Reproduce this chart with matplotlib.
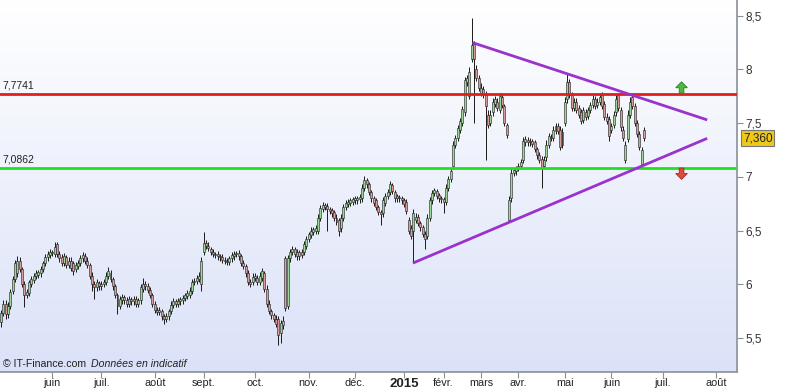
import numpy as np
import matplotlib
matplotlib.use("Agg")
import matplotlib.pyplot as plt
from matplotlib.colors import LinearSegmentedColormap
from matplotlib.patches import FancyArrow

plt.rcParams['font.family'] = ['Liberation Sans', 'DejaVu Sans']

# ---------------- data (daily candles) ----------------
opens = [
    5.65,5.73,5.82,5.72,5.80,5.94,6.05,6.10,6.22,6.14,
    6.00,5.90,5.92,6.00,6.04,6.08,6.09,6.10,6.14,6.20,
    6.25,6.27,6.30,6.28,6.37,6.28,6.25,6.20,6.25,6.18,
    6.22,6.20,6.14,6.17,6.20,6.24,6.26,6.22,6.18,6.08,
    6.00,5.97,6.01,5.98,6.00,6.02,6.08,6.10,6.05,5.98,
    5.90,5.80,5.85,5.88,5.85,5.82,5.86,5.84,5.86,5.82,
    5.85,5.96,6.00,5.98,5.95,5.90,5.82,5.76,5.74,5.75,
    5.70,5.68,5.70,5.75,5.81,5.84,5.82,5.84,5.85,5.87,
    5.89,5.90,5.94,6.02,6.03,6.05,6.00,6.30,6.38,6.36,
    6.33,6.30,6.28,6.28,6.26,6.25,6.23,6.22,6.21,6.24,
    6.26,6.28,6.29,6.26,6.20,6.17,6.10,6.02,6.02,6.06,
    6.06,6.02,6.06,6.10,5.96,5.82,5.75,5.71,5.68,5.68,
    5.55,5.62,6.24,5.80,6.24,6.30,6.33,6.30,6.26,6.30,
    6.30,6.36,6.42,6.46,6.49,6.50,6.50,6.62,6.70,6.72,
    6.73,6.70,6.69,6.67,6.62,6.60,6.52,6.62,6.72,6.75,
    6.76,6.77,6.78,6.78,6.79,6.80,6.90,6.97,6.93,6.86,
    6.80,6.78,6.72,6.67,6.66,6.76,6.82,6.86,6.92,6.86,
    6.80,6.81,6.80,6.78,6.77,6.60,6.52,6.50,6.60,6.63,
    6.57,6.53,6.47,6.45,6.62,6.78,6.85,6.87,6.83,6.80,
    6.79,6.77,6.90,6.98,7.10,7.30,7.36,7.44,7.50,7.60,
    7.88,7.75,8.10,8.24,8.00,7.92,7.78,7.82,7.76,7.58,
    7.50,7.60,7.68,7.70,7.62,7.74,7.66,7.48,6.60,6.80,
    7.04,7.05,7.08,7.10,7.16,7.32,7.34,7.32,7.33,7.32,
    7.26,7.20,7.17,7.10,7.18,7.30,7.37,7.36,7.43,7.47,
    7.44,7.30,7.50,7.72,7.88,7.76,7.64,7.70,7.64,7.60,
    7.53,7.60,7.57,7.62,7.67,7.72,7.67,7.70,7.76,7.68,
    7.56,7.54,7.44,7.48,7.60,7.76,7.62,7.44,7.16,7.35,
    7.58,7.74,7.66,7.50,7.40,7.12,7.44,
]
closes = [
    5.73,5.82,5.72,5.80,5.93,6.05,6.20,6.22,6.14,6.00,
    5.90,5.93,6.02,6.05,6.08,6.10,6.11,6.14,6.20,6.25,
    6.28,6.30,6.29,6.35,6.28,6.24,6.20,6.26,6.18,6.22,
    6.15,6.12,6.18,6.20,6.24,6.27,6.22,6.18,6.08,6.00,
    5.97,6.02,5.98,6.00,6.02,6.08,6.12,6.05,5.98,5.90,
    5.80,5.86,5.88,5.85,5.82,5.86,5.84,5.86,5.82,5.85,
    5.97,6.00,5.98,5.95,5.90,5.82,5.76,5.74,5.76,5.70,
    5.68,5.70,5.75,5.81,5.84,5.82,5.84,5.86,5.87,5.90,
    5.92,5.94,6.02,6.03,6.06,6.08,6.22,6.38,6.36,6.34,
    6.30,6.28,6.27,6.26,6.25,6.23,6.22,6.21,6.24,6.27,
    6.28,6.29,6.26,6.20,6.17,6.10,6.02,6.00,6.07,6.08,
    6.02,6.08,6.12,5.96,5.82,5.75,5.71,5.68,5.63,5.53,
    5.64,5.66,5.78,6.24,6.30,6.33,6.28,6.26,6.30,6.27,
    6.37,6.42,6.47,6.50,6.51,6.52,6.62,6.71,6.74,6.74,
    6.70,6.68,6.66,6.62,6.58,6.50,6.62,6.72,6.76,6.77,
    6.78,6.79,6.80,6.80,6.81,6.90,6.97,6.93,6.86,6.80,
    6.76,6.72,6.67,6.65,6.78,6.82,6.86,6.93,6.87,6.80,
    6.82,6.80,6.78,6.75,6.68,6.50,6.45,6.66,6.63,6.57,
    6.53,6.47,6.42,6.62,6.78,6.85,6.88,6.82,6.80,6.79,
    6.77,6.90,6.98,7.05,7.30,7.36,7.45,7.52,7.63,7.90,
    7.92,7.98,8.23,8.10,7.92,7.83,7.83,7.76,7.66,7.48,
    7.58,7.70,7.72,7.64,7.75,7.67,7.50,7.39,6.78,7.04,
    7.06,7.08,7.10,7.14,7.33,7.35,7.32,7.33,7.31,7.26,
    7.20,7.16,7.08,7.16,7.30,7.38,7.36,7.44,7.47,7.43,
    7.28,7.42,7.70,7.88,7.76,7.64,7.70,7.62,7.58,7.52,
    7.62,7.56,7.62,7.67,7.72,7.66,7.70,7.74,7.66,7.56,
    7.52,7.38,7.47,7.58,7.72,7.64,7.46,7.36,7.30,7.58,
    7.70,7.66,7.50,7.40,7.28,7.25,7.36,
]
highs = [
    5.76,5.85,5.85,5.83,5.96,6.08,6.23,6.26,6.25,6.16,
    6.03,5.96,6.04,6.08,6.10,6.13,6.13,6.17,6.22,6.28,
    6.31,6.33,6.32,6.39,6.39,6.31,6.28,6.29,6.27,6.25,
    6.25,6.22,6.21,6.23,6.27,6.30,6.29,6.25,6.20,6.11,
    6.03,6.05,6.03,6.03,6.05,6.11,6.16,6.13,6.07,6.00,
    5.92,5.89,5.91,5.90,5.88,5.89,5.88,5.89,5.89,5.87,
    6.00,6.06,6.03,6.01,5.97,5.92,5.84,5.79,5.79,5.77,
    5.72,5.73,5.77,5.84,5.87,5.86,5.87,5.88,5.90,5.92,
    5.95,5.97,6.05,6.06,6.09,6.11,6.25,6.49,6.41,6.39,
    6.35,6.33,6.30,6.31,6.28,6.28,6.25,6.24,6.26,6.30,
    6.31,6.31,6.32,6.28,6.23,6.19,6.13,6.05,6.10,6.10,
    6.09,6.11,6.15,6.12,5.99,5.85,5.77,5.73,5.71,5.70,
    5.67,5.70,6.26,6.27,6.33,6.36,6.35,6.33,6.32,6.33,
    6.40,6.45,6.49,6.53,6.53,6.55,6.65,6.74,6.77,6.76,
    6.76,6.72,6.71,6.69,6.65,6.62,6.65,6.75,6.78,6.79,
    6.80,6.81,6.82,6.82,6.84,6.93,7.01,6.99,6.95,6.88,
    6.82,6.80,6.74,6.69,6.81,6.85,6.89,6.96,6.94,6.88,
    6.84,6.83,6.82,6.80,6.79,6.63,6.55,6.70,6.66,6.65,
    6.59,6.55,6.50,6.65,6.81,6.88,6.90,6.89,6.85,6.82,
    6.81,6.93,7.01,7.08,7.33,7.39,7.48,7.55,7.66,7.93,
    7.95,8.02,8.48,8.26,8.04,7.95,7.87,7.85,7.80,7.62,
    7.62,7.73,7.75,7.73,7.78,7.77,7.68,7.50,6.82,7.08,
    7.08,7.10,7.13,7.17,7.37,7.38,7.37,7.36,7.35,7.34,
    7.28,7.23,7.19,7.19,7.34,7.41,7.40,7.47,7.50,7.50,
    7.47,7.45,7.74,7.97,7.91,7.79,7.73,7.73,7.67,7.63,
    7.65,7.63,7.65,7.70,7.76,7.75,7.73,7.78,7.79,7.71,
    7.59,7.57,7.50,7.61,7.76,7.78,7.65,7.47,7.33,7.62,
    7.74,7.77,7.69,7.53,7.43,7.28,7.46,
]
lows = [
    5.60,5.70,5.68,5.69,5.77,5.91,6.02,6.07,6.11,5.97,
    5.79,5.87,5.89,5.97,6.01,6.05,6.06,6.07,6.11,6.17,
    6.22,6.24,6.26,6.25,6.25,6.21,6.17,6.17,6.15,6.15,
    6.12,6.09,6.11,6.14,6.17,6.21,6.19,6.15,6.05,5.94,
    5.86,5.94,5.95,5.95,5.97,5.99,6.05,6.02,5.95,5.87,
    5.72,5.77,5.82,5.82,5.79,5.79,5.81,5.81,5.79,5.79,
    5.82,5.93,5.95,5.92,5.87,5.79,5.73,5.71,5.71,5.67,
    5.63,5.65,5.67,5.72,5.78,5.79,5.79,5.81,5.82,5.84,
    5.86,5.87,5.91,5.99,6.00,6.02,5.94,6.27,6.33,6.31,
    6.27,6.25,6.24,6.23,6.22,6.20,6.19,6.18,6.18,6.21,
    6.23,6.25,6.23,6.17,6.14,6.07,5.99,5.97,5.99,6.03,
    5.99,5.99,6.03,5.93,5.79,5.72,5.68,5.65,5.60,5.43,
    5.45,5.58,5.75,5.77,6.21,6.27,6.25,6.23,6.23,6.24,
    6.27,6.33,6.39,6.43,6.46,6.47,6.47,6.59,6.67,6.69,
    6.50,6.65,6.63,6.59,6.55,6.45,6.49,6.59,6.69,6.72,
    6.73,6.74,6.75,6.75,6.76,6.77,6.87,6.90,6.83,6.77,
    6.73,6.69,6.64,6.55,6.63,6.73,6.79,6.83,6.84,6.77,
    6.77,6.77,6.75,6.72,6.65,6.47,6.42,6.20,6.57,6.54,
    6.50,6.44,6.33,6.42,6.59,6.75,6.82,6.79,6.77,6.76,
    6.66,6.74,6.87,6.95,7.07,7.27,7.33,7.41,7.47,7.57,
    7.85,7.72,8.07,7.50,7.89,7.80,7.75,7.73,7.16,7.45,
    7.47,7.57,7.65,7.61,7.59,7.64,7.47,7.36,6.58,6.77,
    7.01,7.02,7.05,7.07,7.13,7.29,7.29,7.29,7.28,7.23,
    7.17,7.13,6.90,7.07,7.15,7.27,7.33,7.33,7.40,7.40,
    7.25,7.27,7.47,7.69,7.73,7.61,7.61,7.59,7.55,7.49,
    7.50,7.53,7.54,7.59,7.64,7.63,7.64,7.67,7.63,7.53,
    7.49,7.33,7.41,7.45,7.57,7.61,7.43,7.33,7.13,7.32,
    7.55,7.63,7.47,7.37,7.25,7.09,7.33,
]

# month ticks: candle index of first session of each month
month_labels = ["juin", "juil.", "août", "sept.", "oct.", "nov.", "déc.", "2015",
                "févr.", "mars", "avr.", "mai", "juin", "juil.", "août"]
month_index = [22, 43, 66, 87, 109, 132, 152, 173, 190, 206, 222, 242, 262, 284, 307]

y_ticks = [5.5, 6.0, 6.5, 7.0, 7.5, 8.0, 8.5]
y_tick_labels = ["5,5", "6", "6,5", "7", "7,5", "8", "8,5"]

resistance = 7.7741
support = 7.0862
last_price = 7.360

# triangle trendlines (candle index, price)
top_line_x = [202.4, 303.1]
top_line_y = [8.249, 7.530]
bot_line_x = [176.8, 303.1]
bot_line_y = [6.197, 7.358]

# ---------------- figure ----------------
W, H = 793, 391
fig = plt.figure(figsize=(W / 100, H / 100), dpi=100)
ax = fig.add_axes([0, 19 / H, 737 / W, 372 / H])

xmin, xmax = -0.43, 315.9
ymin, ymax = 5.183, 8.646
ax.set_xlim(xmin, xmax)
ax.set_ylim(ymin, ymax)

# background gradient
cmap = LinearSegmentedColormap.from_list("bg", ["#ffffff", "#dbe2f8"])
grad = np.linspace(0, 1, 256).reshape(-1, 1)
ax.imshow(grad, cmap=cmap, extent=[xmin, xmax, ymin, ymax], aspect='auto',
          origin='upper', zorder=0)

# candles
n = len(closes)
idx = np.arange(n)
o = np.array(opens); c = np.array(closes)
hi = np.array(highs); lo = np.array(lows)
ax.vlines(idx, lo, hi, color='#1a1a1a', lw=0.7, zorder=2)
up = c >= o
body_col = np.where(up, '#9ed69a', '#d99c9c')
height = c - o
height = np.where(np.abs(height) < 0.008, 0.008, height)
ax.bar(idx, height, bottom=o, width=0.85, color=body_col, edgecolor='#1a1a1a',
       linewidth=0.4, zorder=3)

# horizontal levels
ax.axhline(resistance, color='#e01e1e', lw=2.0, zorder=4)
ax.axhline(support, color='#22e022', lw=2.0, zorder=4)
ax.text(0.003, resistance + 0.025, "7,7741", transform=ax.get_yaxis_transform(),
        fontsize=7.5, color='#222222', va='bottom', ha='left')
ax.text(0.003, support + 0.025, "7,0862", transform=ax.get_yaxis_transform(),
        fontsize=7.5, color='#222222', va='bottom', ha='left')

# triangle
ax.plot(top_line_x, top_line_y, color='#9933cc', lw=2.0, zorder=5, solid_capstyle='butt')
ax.plot(bot_line_x, bot_line_y, color='#9933cc', lw=2.0, zorder=5, solid_capstyle='butt')

# arrows
arrow_x = 292.1
ax.add_patch(FancyArrow(arrow_x, resistance + 0.005, 0, 0.105, width=2.0,
                        head_width=5.0, head_length=0.055, length_includes_head=True,
                        facecolor='#4cbb3c', edgecolor='#2d7a25', lw=0.6, zorder=6))
ax.add_patch(FancyArrow(arrow_x, support - 0.005, 0, -0.105, width=2.0,
                        head_width=5.0, head_length=0.055, length_includes_head=True,
                        facecolor='#e04a3a', edgecolor='#a02a20', lw=0.6, zorder=6))

# axes styling
for s in ['left', 'top']:
    ax.spines[s].set_visible(False)
for s in ['right', 'bottom']:
    ax.spines[s].set_color('#8a9098')
    ax.spines[s].set_linewidth(1.2)

ax.yaxis.tick_right()
ax.set_yticks(y_ticks)
ax.set_yticklabels(y_tick_labels)
ax.tick_params(axis='y', direction='out', length=4, width=0.8, colors='#8a9098',
               labelcolor='#333333', labelsize=8.5, pad=2)

ax.set_xticks(month_index)
ax.set_xticklabels(month_labels)
ax.tick_params(axis='x', direction='out', length=4, width=0.8, colors='#8a9098',
               labelcolor='#222222', labelsize=7.8, pad=0.5)
for lab in ax.get_xticklabels():
    if lab.get_text() == "2015":
        lab.set_fontsize(9.5)
        lab.set_fontweight('bold')

# last price box
ax.text(1.008, last_price, "7,360", transform=ax.get_yaxis_transform(),
        fontsize=8.5, color='#222222', va='center', ha='left', zorder=10,
        bbox=dict(boxstyle='square,pad=0.15', facecolor='#ecc81c', edgecolor='#777777', lw=0.8),
        clip_on=False)

# footer
ax.text(0.004, 0.022, "© IT-Finance.com", transform=ax.transAxes, fontsize=7.6,
        color='#222222', va='center', ha='left', zorder=10)
ax.text(0.1235, 0.022, "Données en indicatif", transform=ax.transAxes, fontsize=7.6,
        color='#222222', va='center', ha='left', style='italic', zorder=10)

fig.savefig("out.png", dpi=100)
